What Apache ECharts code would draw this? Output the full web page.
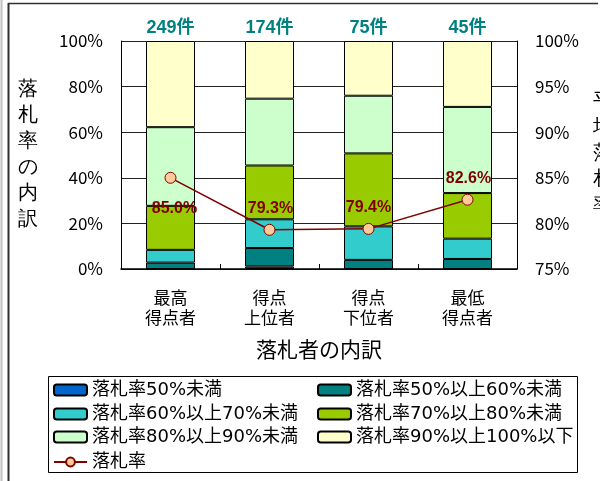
<!DOCTYPE html>
<html>
<head>
<meta charset="utf-8">
<script src="https://cdn.jsdelivr.net/npm/echarts@6/dist/echarts.min.js"></script>
<style>
html,body{margin:0;padding:0;background:#fff;}
#chart{width:600px;height:481px;}
</style>
</head>
<body>
<div id="chart"></div>
<script>
// ---- data ----
const categories = ['最高\n得点者', '得点\n上位者', '得点\n下位者', '最低\n得点者'];
const counts = [249, 174, 75, 45];
const seriesNames = ['落札率50%未満', '落札率50%以上60%未満', '落札率60%以上70%未満',
                     '落札率70%以上80%未満', '落札率80%以上90%未満', '落札率90%以上100%以下'];
const lt50     = [0, 1.1, 0, 0];
const r50to60  = [2.8, 8.1, 4.0, 4.4];
const r60to70  = [5.6, 12.6, 14.7, 8.9];
const r70to80  = [19.3, 23.6, 32.0, 20.0];
const r80to90  = [34.5, 29.3, 25.3, 37.8];
const r90to100 = [37.8, 25.3, 24.0, 28.9];
const lineName = '落札率';
const avgRate = [85.0, 79.3, 79.4, 82.6];
const leftTicks = [0, 100, 20];
const rightTicks = [75, 100, 5];

// ---- styles ----
const colors = ['#0066CC', '#008080', '#33CCCC', '#99CC00', '#CCFFCC', '#FFFFCC'];
const labelOffsets = [[4, 31], [1, -21], [0, -21], [1, -21]];
const JP = '"Noto Sans CJK JP", sans-serif';
const LEG = '"DejaVu Sans", "Noto Sans CJK JP", sans-serif';
const BOLD = '"Liberation Sans", "Noto Sans CJK JP", sans-serif';

const barData = [lt50, r50to60, r60to70, r70to80, r80to90, r90to100];
const series = barData.map((d, i) => ({
  name: seriesNames[i], type: 'bar', stack: 'all', xAxisIndex: 0, yAxisIndex: 0,
  barWidth: 49, data: d,
  itemStyle: { color: colors[i], borderColor: '#000', borderWidth: 1 },
  emphasis: { disabled: true }, animation: false
}));
series.push({
  name: lineName, type: 'line', xAxisIndex: 0, yAxisIndex: 1,
  data: avgRate.map((v, i) => ({ value: v, label: { offset: labelOffsets[i] } })),
  symbol: 'circle', symbolSize: 11,
  itemStyle: { color: '#FFCC99', borderColor: '#800000', borderWidth: 1 },
  lineStyle: { color: '#800000', width: 1.5 },
  label: { show: true, position: 'inside', formatter: p => p.value.toFixed(1) + '%',
           color: '#800000', fontWeight: 'bold', fontSize: 16, fontFamily: BOLD },
  emphasis: { disabled: true }, animation: false, z: 5
});

const legendPos = [[53, 381], [317, 381], [53, 405], [317, 405], [53, 428], [317, 428], [53, 453]];
const legendNames = seriesNames.concat([lineName]);
const legends = legendNames.map((n, i) => ({
  data: [n], left: legendPos[i][0], top: legendPos[i][1], padding: 0,
  itemWidth: 33, itemHeight: 11, selectedMode: false,
  textStyle: { fontSize: 18, color: '#000', fontFamily: LEG }
}));

const chart = echarts.init(document.getElementById('chart'));
chart.setOption({
  animation: false,
  backgroundColor: '#fff',
  grid: { left: 121, right: 83, top: 41, bottom: 212, containLabel: false },
  legend: legends,
  xAxis: [{
    type: 'category', data: categories, position: 'bottom',
    axisLine: { lineStyle: { color: '#000', width: 1.5 } },
    axisTick: { show: true, inside: true, length: 5, lineStyle: { color: '#000' } },
    axisLabel: { interval: 0, fontSize: 17, lineHeight: 20, margin: 19, color: '#000', fontFamily: JP },
    name: '落札者の内訳', nameLocation: 'middle', nameGap: 70,
    nameTextStyle: { fontSize: 21, color: '#000', fontFamily: JP }
  }, {
    type: 'category', data: counts.map(c => c + '件'), position: 'top',
    axisLine: { show: false }, axisTick: { show: false },
    axisLabel: { interval: 0, fontSize: 18, fontWeight: 'bold', color: '#008080', margin: 4, fontFamily: BOLD }
  }],
  yAxis: [{
    type: 'value', min: leftTicks[0], max: leftTicks[1], interval: leftTicks[2],
    axisLine: { show: true, lineStyle: { color: '#000', width: 1 } },
    axisTick: { show: false },
    axisLabel: { formatter: '{value}%', fontSize: 17, color: '#000', margin: 18, fontFamily: JP, padding: [5, 0, 0, 0] },
    splitLine: { show: true, lineStyle: { color: '#222', width: 1 } }
  }, {
    type: 'value', min: rightTicks[0], max: rightTicks[1], interval: rightTicks[2], position: 'right',
    axisLine: { show: true, lineStyle: { color: '#000', width: 1 } },
    axisTick: { show: false },
    axisLabel: { formatter: '{value}%', fontSize: 17, color: '#000', margin: 18, fontFamily: JP, padding: [5, 0, 0, 0] },
    splitLine: { show: false }
  }],
  graphic: [
    { type: 'line', shape: { x1: 1.5, y1: 0, x2: 1.5, y2: 481 }, style: { stroke: '#c0c0c0', lineWidth: 2 } },
    { type: 'line', shape: { x1: 8.5, y1: 3, x2: 8.5, y2: 481 }, style: { stroke: '#303030', lineWidth: 2 } },
    { type: 'line', shape: { x1: 8, y1: 3.5, x2: 598, y2: 3.5 }, style: { stroke: '#303030', lineWidth: 1.5 } },
    { type: 'rect', shape: { x: 48.5, y: 376.5, width: 529, height: 96 }, style: { fill: null, stroke: '#000', lineWidth: 1 } },
    { type: 'text', left: 18, top: 76, style: { text: '落\n札\n率\nの\n内\n訳', fontSize: 20, lineHeight: 26, fill: '#000', font: '20px "Noto Sans CJK JP"' } },
    { type: 'text', left: 593, top: 88, style: { text: '平\n均\n落\n札\n率', fontSize: 20, lineHeight: 26, fill: '#000', font: '20px "Noto Sans CJK JP"' } }
  ],
  series: series
});
</script>
</body>
</html>
